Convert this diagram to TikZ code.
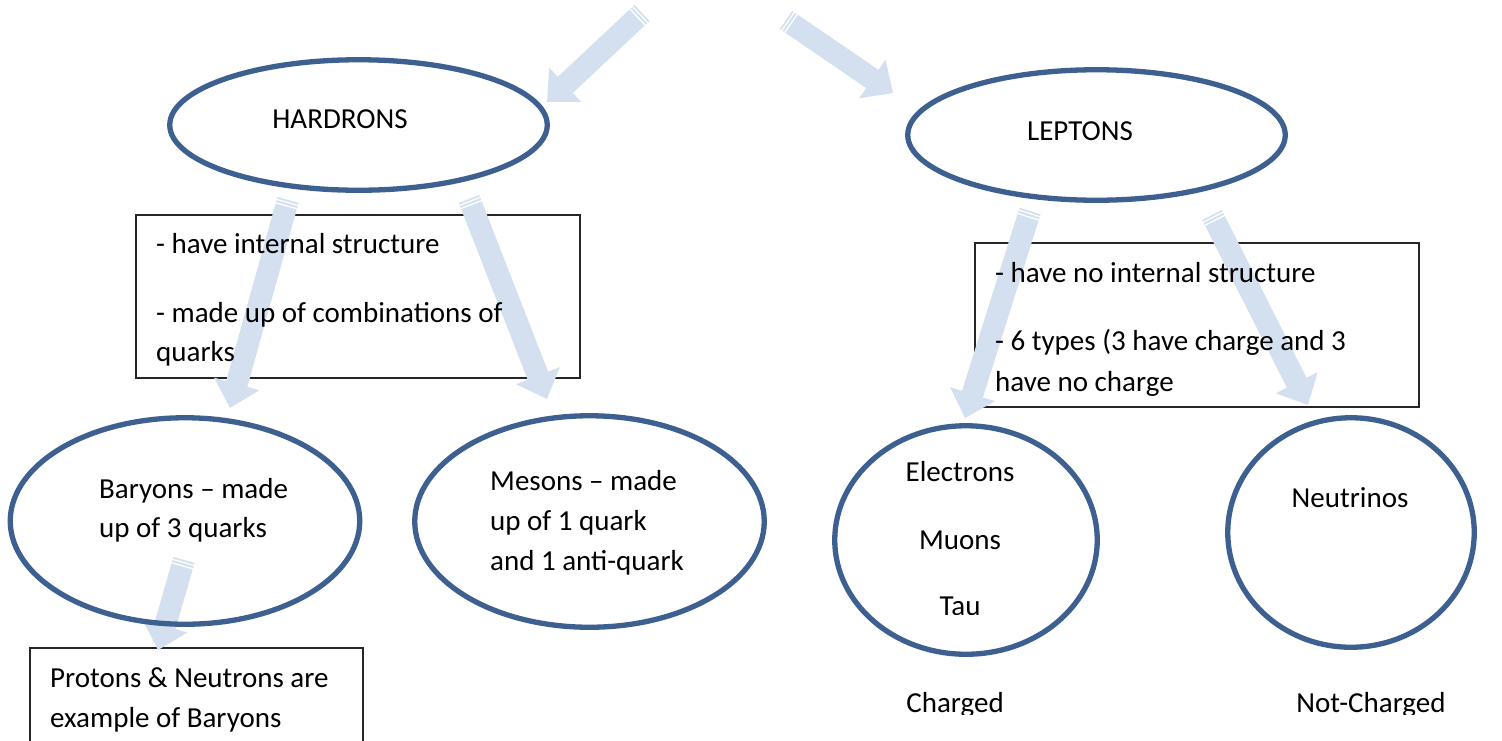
\documentclass[tikz,border=0pt]{standalone}
\usepackage{fontspec}
\setmainfont{Carlito}
\usetikzlibrary{shapes.geometric,calc,backgrounds}
\definecolor{arrowblue}{HTML}{D4E0F0}
\definecolor{ellblue}{HTML}{3D6090}
\tikzset{
  oval/.style={ellipse, draw=ellblue, line width=5.3pt, inner sep=0pt},
  txt/.style={font=\fontsize{29}{35}\selectfont, inner sep=0pt, text=black},
  txtl/.style={txt, anchor=base west},
  txtc/.style={txt, anchor=base},
  boxframe/.style={draw=black!85, line width=1.3pt, inner sep=0pt},
}
\newcommand\blockarrow[2]{%
  \path let \p1=($(#2)-(#1)$) in \pgfextra{%
    \pgfmathsetmacro\baang{atan2(\y1,\x1)}%
    \pgfmathsetmacro\balen{veclen(\x1,\y1)}%
    \global\let\baang\baang \global\let\balen\balen};
  \begin{scope}[shift={(#1)}, rotate=\baang, x=1pt, y=1pt]
    \fill[arrowblue] (0,-11) -- ({\balen-25},-11) -- ({\balen-25},-23.5) -- (\balen,0)
      -- ({\balen-25},23.5) -- ({\balen-25},11) -- (0,11) -- cycle;
    \draw[white, line width=1.3pt] (2.5,-12) -- (2.5,12) (6,-12) -- (6,12);
  \end{scope}}
\begin{document}
\begin{tikzpicture}[x=1pt, y=-1pt]
\path[use as bounding box] (0,0) rectangle (1502,740);
\clip (0,0) rectangle (1502,740);

% ellipses
\node[oval, minimum width=377.5, minimum height=130.5] (had) at (358.5,125) {};
\node[oval, minimum width=377.5, minimum height=130.5] (lep) at (1096.5,135) {};
\node[oval, minimum width=349.5, minimum height=206.5] (bar) at (185,521) {};
\node[oval, minimum width=349.5, minimum height=211.5] (mes) at (589.5,521.5) {};
\node[oval, minimum width=262.5, minimum height=228.5] (ele) at (966,540) {};
\node[oval, minimum width=246.5, minimum height=229.5] (neu) at (1351,532.5) {};

% arrow end points
\coordinate (a1s) at (642,13);   \coordinate (a1e) at (547,102);
\coordinate (a2s) at (786,20);   \coordinate (a2e) at (893,93);
\coordinate (a3s) at (288,200);  \coordinate (a3e) at (230,408);
\coordinate (a4s) at (469,199);  \coordinate (a4e) at (547,399);
\coordinate (a5s) at (1030,211); \coordinate (a5e) at (965,418);
\coordinate (a6s) at (1212,215); \coordinate (a6e) at (1308,405);
\coordinate (a7s) at (184,560);  \coordinate (a7e) at (158,650);

\begin{scope}[on background layer]
  \node[boxframe, minimum width=444, minimum height=163] (box1) at (358,296.5) {};
  \node[boxframe, minimum width=444, minimum height=164] (box2) at (1197,325) {};
  \node[boxframe, minimum width=333, minimum height=110] (box3) at (196.5,703) {};
  \blockarrow{a1s}{a1e}
  \blockarrow{a2s}{a2e}
  \blockarrow{a3s}{a3e}
  \blockarrow{a4s}{a4e}
  \blockarrow{a5s}{a5e}
  \blockarrow{a6s}{a6e}
  \blockarrow{a7s}{a7e}
\end{scope}

% texts
\node[txtc] (thad) at (340,128) {HARDRONS};
\node[txtc] (tlep) at (1080,140) {LEPTONS};

\node[txtl] (b1a) at (156,253) {- have internal structure};
\node[txtl] (b1b) at (156,322) {- made up of combinations of};
\node[txtl] (b1c) at (156,361) {quarks};

\node[txtl] (b2a) at (995,282) {- have no internal structure};
\node[txtl] (b2b) at (995,350) {- 6 types (3 have charge and 3};
\node[txtl] (b2c) at (995,391) {have no charge};

\node[txtl] (tba) at (99,498) {Baryons – made};
\node[txtl] (tbb) at (99,537) {up of 3 quarks};

\node[txtl] (tma) at (490,490) {Mesons – made};
\node[txtl] (tmb) at (490,530) {up of 1 quark};
\node[txtl] (tmc) at (490,570) {and 1 anti-quark};

\node[txtc] (tel) at (960,481) {Electrons};
\node[txtc] (tmu) at (960,549) {Muons};
\node[txtc] (tne) at (1350,507) {Neutrinos};

\begin{scope}
  \clip (900,580) rectangle (1020,614);
  \node[txtc] (tta) at (960,615) {Tau};
\end{scope}
\begin{scope}
  \clip (860,670) rectangle (1480,714);
  \node[txtc] (tch) at (955,712) {Charged};
  \node[txtc] (tnc) at (1371,712) {Not-Charged};
\end{scope}

\node[txtl] (p1) at (50,687) {Protons \& Neutrons are};
\node[txtl] (p2) at (50,727) {example of Baryons};
\end{tikzpicture}
\end{document}
